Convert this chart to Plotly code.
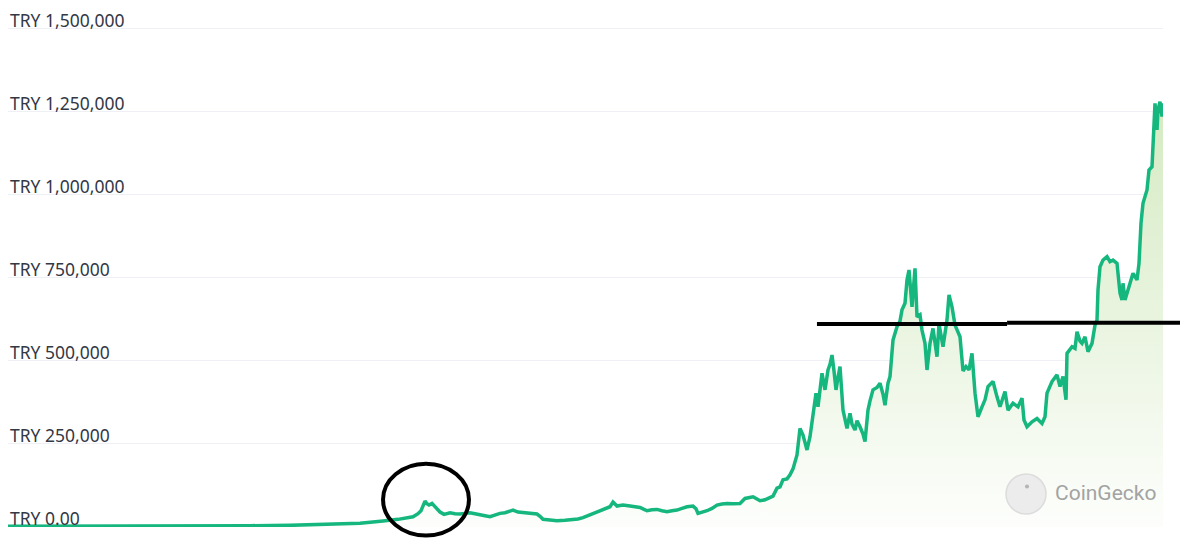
import pandas as pd
import plotly.graph_objects as go

# ---- data ----
start_date = "2014-06-15"
day_offset = [0, 126, 276, 426, 576, 726, 846, 936, 1008, 1056, 1125, 1170, 1215, 1230, 1239, 1251, 1257, 1263, 1272, 1284,
              1296, 1308, 1326, 1341, 1356, 1371, 1386, 1401, 1416, 1431, 1446, 1461, 1476, 1491, 1506, 1515, 1530, 1545,
              1566, 1587, 1596, 1605, 1626, 1647, 1671, 1695, 1710, 1725, 1746, 1767, 1785, 1800, 1806, 1815, 1821, 1827,
              1836, 1845, 1866, 1881, 1896, 1908, 1917, 1932, 1947, 1962, 1977, 1992, 2007, 2022, 2037, 2055, 2064, 2070,
              2082, 2097, 2112, 2127, 2142, 2157, 2175, 2196, 2211, 2223, 2235, 2247, 2256, 2271, 2286, 2295, 2307, 2316,
              2325, 2337, 2346, 2355, 2367, 2376, 2385, 2397, 2406, 2415, 2424, 2430, 2436, 2442, 2451, 2460, 2466, 2472,
              2478, 2484, 2490, 2496, 2505, 2511, 2517, 2526, 2532, 2541, 2547, 2556, 2565, 2571, 2580, 2586, 2595, 2607,
              2616, 2625, 2631, 2640, 2646, 2655, 2667, 2676, 2682, 2691, 2697, 2703, 2712, 2721, 2727, 2736, 2742, 2751,
              2757, 2766, 2775, 2787, 2793, 2805, 2817, 2823, 2832, 2841, 2856, 2865, 2874, 2883, 2892, 2901, 2910, 2922,
              2931, 2940, 2946, 2955, 2967, 2976, 2991, 3000, 3015, 3030, 3042, 3048, 3057, 3072, 3087, 3102, 3111, 3117,
              3132, 3147, 3156, 3165, 3174, 3177, 3192, 3201, 3207, 3216, 3222, 3231, 3240, 3252, 3261, 3267, 3270, 3276,
              3285, 3297, 3306, 3315, 3327, 3330, 3336, 3342, 3345, 3351, 3357, 3366, 3375, 3387, 3393, 3399, 3405, 3417,
              3423, 3432, 3435, 3441, 3447, 3450, 3456, 3462, 3465]

# price in thousands of TRY
price_k = [2, 2, 2, 2.5, 3, 4, 5, 7, 8, 11, 18, 23, 31, 40, 49, 78, 70, 66, 71, 57,
           45, 38, 43, 40, 39, 41, 43, 40, 38, 34, 31, 36, 41, 43, 47, 51, 45, 43,
           41, 39, 32, 23, 21, 19, 20, 21, 24, 28, 36, 46, 53, 58, 61, 75, 68, 63,
           65, 66, 63, 62, 59, 53, 49, 52, 53, 49, 46, 49, 51, 56, 61, 63, 55, 41,
           44, 49, 56, 66, 69, 71, 70, 71, 86, 89, 91, 84, 79, 82, 88, 93, 117, 121,
           142, 145, 157, 175, 217, 297, 277, 232, 272, 332, 403, 362, 420, 463, 413, 473, 490, 518,
           470, 413, 450, 483, 352, 320, 297, 342, 310, 292, 320, 302, 280, 257, 352, 380, 413, 420,
           433, 400, 367, 433, 453, 563, 603, 620, 654, 674, 744, 774, 663, 779, 633, 639, 593, 553,
           473, 553, 598, 513, 613, 543, 623, 699, 663, 608, 573, 470, 483, 473, 523, 403, 332, 362,
           383, 423, 430, 438, 392, 362, 408, 352, 373, 362, 388, 322, 302, 317, 327, 312, 332, 403,
           438, 458, 423, 453, 383, 523, 543, 538, 588, 560, 553, 573, 528, 553, 608, 623, 714, 784,
           804, 814, 799, 804, 794, 754, 704, 684, 734, 684, 704, 734, 764, 744, 794, 915, 975, 1015,
           1075, 1085, 1156, 1276, 1196, 1256, 1281, 1236, 1276]

tick_values = [0, 250000, 500000, 750000, 1000000, 1250000, 1500000]
tick_labels = ["TRY 0.00", "TRY 250,000", "TRY 500,000", "TRY 750,000",
               "TRY 1,000,000", "TRY 1,250,000", "TRY 1,500,000"]

dates = pd.to_datetime(start_date) + pd.to_timedelta(day_offset, unit="D")
prices = [p * 1000 for p in price_k]

fig = go.Figure()
fig.add_trace(go.Scatter(
    x=dates, y=prices, mode="lines",
    line=dict(color="#15b77e", width=3.5),
    fill="tozeroy",
    fillgradient=dict(type="vertical",
                      colorscale=[[0, "rgb(253,254,252)"], [1, "rgb(212,234,193)"]],
                      start=0, stop=1300000),
    hoverinfo="skip", showlegend=False,
))

# y tick labels sit just above each gridline, inside the plot
for val, lab in zip(tick_values, tick_labels):
    fig.add_annotation(text=lab, xref="paper", yref="y", x=0, y=val,
                       xanchor="left", yanchor="middle", yshift=9, showarrow=False,
                       font=dict(family="Noto Sans", size=17.5, color="#333845"))

# hand-drawn highlight marks (paper coords)
fig.add_shape(type="circle", xref="paper", yref="paper",
              x0=0.3247, x1=0.3991, y0=-0.0164, y1=0.1222,
              line=dict(color="black", width=4), layer="above")
fig.add_shape(type="line", xref="paper", yref="paper",
              x0=0.7004, x1=0.8650, y0=0.3919, y1=0.3919,
              line=dict(color="black", width=4), layer="above")
fig.add_shape(type="line", xref="paper", yref="paper",
              x0=0.8650, x1=1.03, y0=0.3944, y1=0.3944,
              line=dict(color="black", width=4), layer="above")

# watermark
fig.add_shape(type="circle", xref="paper", yref="paper",
              x0=0.8641, x1=0.8987, y0=0.0251, y1=0.1023,
              fillcolor="#ececec", line=dict(color="#dcdcdc", width=1.5), layer="above")
fig.add_shape(type="circle", xref="paper", yref="paper",
              x0=0.8805, x1=0.8840, y0=0.0745, y1=0.0822,
              fillcolor="#b5b5b5", line=dict(width=0), layer="above")
fig.add_annotation(text="CoinGecko", xref="paper", yref="paper",
                   x=0.9498, y=0.0656, xanchor="center", yanchor="middle",
                   showarrow=False, font=dict(family="Roboto", size=21, color="#a3a3a3"))

fig.update_layout(
    width=1180, height=530,
    margin=dict(l=0, r=25, t=1, b=11),
    paper_bgcolor="white", plot_bgcolor="white",
    font=dict(family="Noto Sans", size=17, color="#333845"),
    xaxis=dict(showgrid=False, showticklabels=False, zeroline=False, showline=False,
               range=[dates[0], dates[-1]], fixedrange=True),
    yaxis=dict(range=[0, 1560000], tickvals=tick_values, showticklabels=False,
               showgrid=True, gridcolor="#eef0f5",
               gridwidth=1, zeroline=False, showline=False, ticks=""),
)

fig.write_html("out.html", config={"displayModeBar": False})
